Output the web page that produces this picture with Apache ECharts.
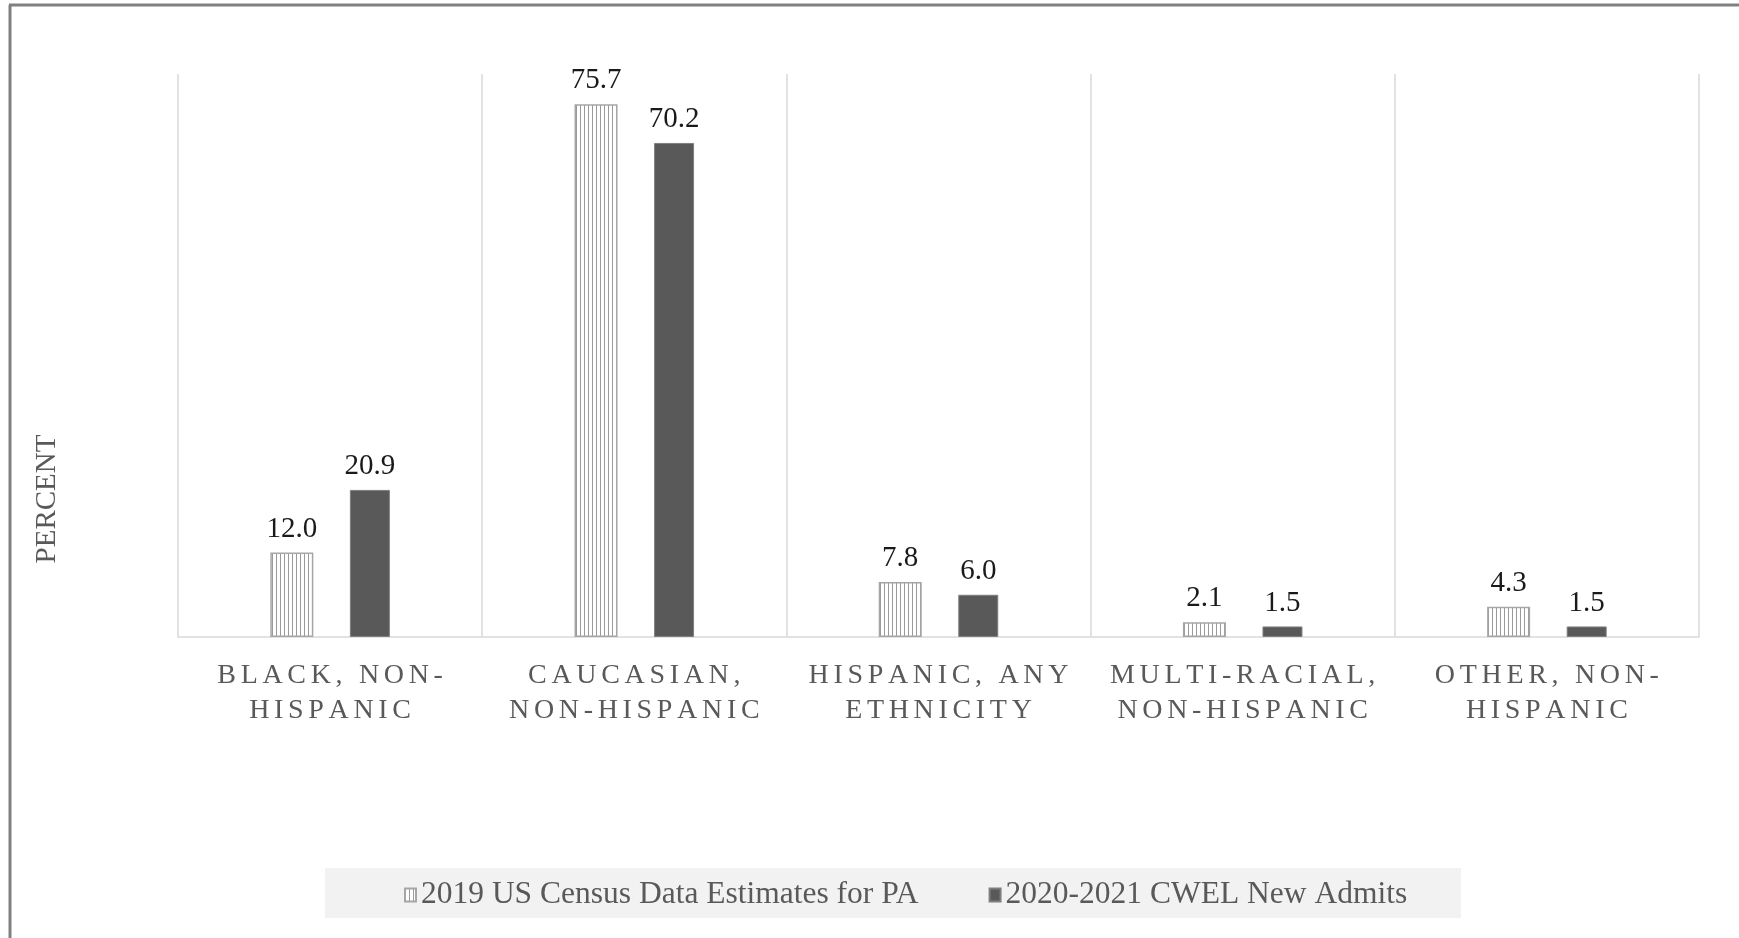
<!DOCTYPE html>
<html>
<head>
<meta charset="utf-8">
<script src="https://cdn.jsdelivr.net/npm/echarts@6/dist/echarts.min.js"></script>
<style>
html,body{margin:0;padding:0;background:#fff;}
#chart{width:1739px;height:938px;}
</style>
</head>
<body>
<div id="chart"></div>
<script>
const categories = [
  'BLACK, NON-\nHISPANIC',
  'CAUCASIAN,\nNON-HISPANIC',
  'HISPANIC, ANY\nETHNICITY',
  'MULTI-RACIAL,\nNON-HISPANIC',
  'OTHER, NON-\nHISPANIC'
];
const seriesNames = ['2019 US Census Data Estimates for PA', '2020-2021 CWEL New Admits'];
const censusValues = [12.0, 75.7, 7.8, 2.1, 4.3];
const cwelValues = [20.9, 70.2, 6.0, 1.5, 1.5];
const yAxisTitle = 'PERCENT';

function spaced(s) {
  return s.split('\n').map(line => line.split('').join('\u200A\u200A')).join('\n');
}

const stripe = document.createElement('canvas');
stripe.width = 4; stripe.height = 4;
const sctx = stripe.getContext('2d');
sctx.fillStyle = '#ffffff';
sctx.fillRect(0, 0, 4, 4);
sctx.fillStyle = '#9a9a9a';
sctx.fillRect(0, 0, 1, 4);

const FONT = '"Liberation Serif", "Times New Roman", serif';

const chart = echarts.init(document.getElementById('chart'));
chart.setOption({
  animation: false,
  backgroundColor: '#ffffff',
  grid: { left: 178, right: 40, top: 74, bottom: 301 },
  legend: {
    data: seriesNames,
    left: 399,
    top: 874,
    itemGap: 70,
    itemWidth: 11,
    itemHeight: 13,
    icon: 'rect',
    textStyle: { fontFamily: FONT, fontSize: 31.5, color: '#595959' }
  },
  xAxis: {
    type: 'category',
    data: categories,
    axisTick: { show: false },
    axisLine: { lineStyle: { color: '#d9d9d9', width: 1.5 } },
    splitLine: { show: true, interval: 0, lineStyle: { color: '#d9d9d9', width: 1.5 } },
    axisLabel: {
      interval: 0,
      margin: 21,
      fontFamily: FONT,
      fontSize: 28,
      lineHeight: 35,
      color: '#595959',
      formatter: v => spaced(v)
    }
  },
  yAxis: {
    type: 'value',
    min: 0, max: 80,
    show: false,
    splitLine: { show: false }
  },
  series: [
    {
      name: seriesNames[0],
      type: 'bar',
      data: censusValues,
      barWidth: 43,
      barGap: '85%',
      itemStyle: {
        color: { image: stripe, repeat: 'repeat' },
        borderColor: '#a6a6a6',
        borderWidth: 1.5
      },
      label: {
        show: true, position: 'top', distance: 9,
        fontFamily: FONT, fontSize: 29, color: '#1a1a1a',
        formatter: p => p.value.toFixed(1)
      }
    },
    {
      name: seriesNames[1],
      type: 'bar',
      data: cwelValues,
      barWidth: 40,
      itemStyle: {
        color: '#595959',
        borderColor: '#7f7f7f',
        borderWidth: 1
      },
      label: {
        show: true, position: 'top', distance: 9,
        fontFamily: FONT, fontSize: 29, color: '#1a1a1a',
        formatter: p => p.value.toFixed(1)
      }
    }
  ],
  graphic: [
    {
      type: 'rect', z: -10, silent: true,
      shape: { x: 325, y: 868, width: 1136, height: 50 },
      style: { fill: '#f2f2f2' }
    },
    {
      type: 'line', silent: true,
      shape: { x1: 10, y1: 938, x2: 10, y2: 5 },
      style: { stroke: '#808080', lineWidth: 3 }
    },
    {
      type: 'line', silent: true,
      shape: { x1: 9, y1: 5, x2: 1739, y2: 5 },
      style: { stroke: '#808080', lineWidth: 3 }
    },
    {
      type: 'text', silent: true,
      x: 47, y: 499, rotation: Math.PI / 2,
      style: {
        text: yAxisTitle, fontFamily: FONT, fontSize: 29, fill: '#595959',
        align: 'center', verticalAlign: 'middle'
      }
    }
  ]
});
</script>
</body>
</html>
